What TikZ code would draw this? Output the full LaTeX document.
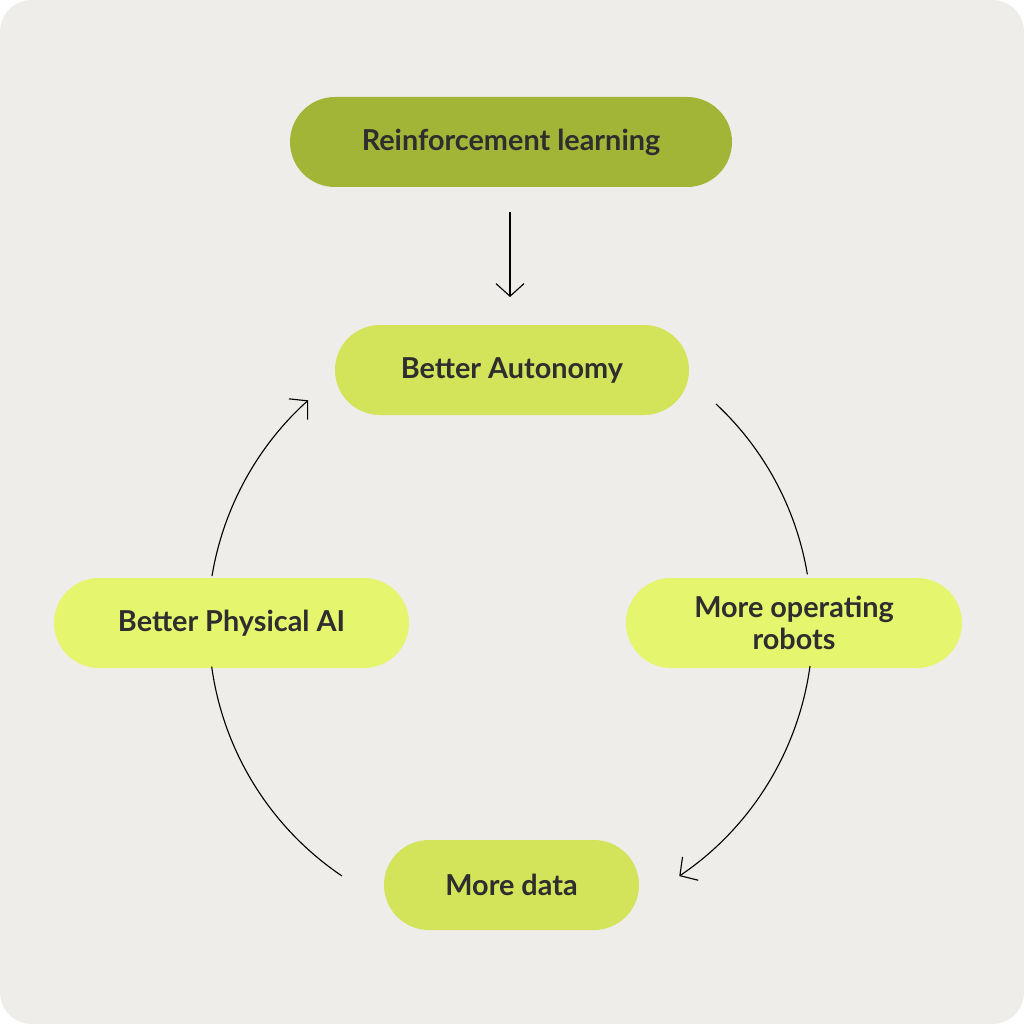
\documentclass[tikz,border=0pt]{standalone}
\usepackage{fontspec}
\setmainfont{Lato}
\usetikzlibrary{arrows.meta}
\definecolor{bg}{HTML}{EEEDE9}
\definecolor{dk}{HTML}{A2B536}
\definecolor{md}{HTML}{D3E35A}
\definecolor{lt}{HTML}{E6F56E}
\definecolor{tx}{HTML}{2E2E2E}
\begin{document}
\begin{tikzpicture}[x=0.025cm,y=-0.025cm,
  pill/.style={rounded corners=45*0.025cm, minimum height=90*0.025cm, text=tx, font=\fontsize{20.5}{23}\selectfont\bfseries, align=center, inner sep=0pt},
  con/.style={black, line width=0.8pt},
  tip/.style={-{Straight Barb[length=9pt,width=20pt,line width=0.8pt]}}]
\useasboundingbox (0,0) rectangle (1024,1024);
\fill[white] (0,0) rectangle (1024,1024);
\fill[bg, rounded corners=0.8cm] (0,0) rectangle (1024,1024);
\node[pill, fill=dk, minimum width=442*0.025cm] (rl) at (511,142) {Reinforcement learning};
\node[pill, fill=md, minimum width=354*0.025cm] (ba) at (512,370) {Better Autonomy};
\node[pill, fill=lt, minimum width=355*0.025cm] (bp) at (231.5,623) {Better Physical AI};
\node[pill, fill=lt, minimum width=336*0.025cm] (mo) at (794,623) {More operating\\robots};
\node[pill, fill=md, minimum width=255*0.025cm] (md) at (511.5,885) {More data};
\coordinate (a1) at (510,212);
\coordinate (a2) at (510,297);
\draw[con,tip] (a1) -- (a2);
\draw[con] (716,404) arc[start angle=47, end angle=9.4, radius=300*0.025cm];
\draw[con,tip] (810,666) arc[start angle=-7.8, end angle=-56, radius=303*0.025cm];
\draw[con] (342,876) arc[start angle=-124, end angle=-172.2, radius=302*0.025cm];
\draw[con,tip] (212,576) arc[start angle=170.6, end angle=132, radius=303*0.025cm];
\end{tikzpicture}
\end{document}
